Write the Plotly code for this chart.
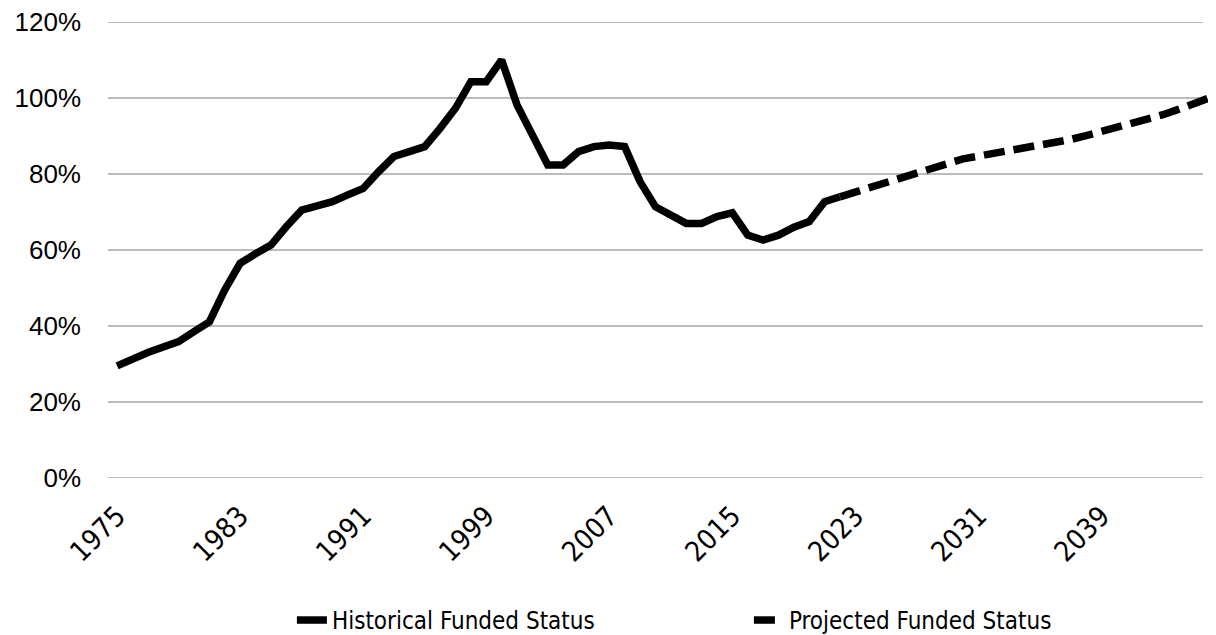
import plotly.graph_objects as go

# ---- data ----
hist_years = list(range(1975, 2023))
hist_values = [29.5, 31.4, 33.0, 34.5, 35.9, 38.5, 41.1, 49.5, 56.5, 59.0,
               61.3, 66.1, 70.5, 71.6, 72.7, 74.5, 76.2, 80.6, 84.6, 85.9,
               87.2, 92.0, 97.3, 104.3, 104.3, 110.0, 98.2, 90.3, 82.4, 82.4,
               85.9, 87.2, 87.6, 87.2, 78.0, 71.4, 69.2, 67.0, 67.0, 68.8,
               69.8, 63.9, 62.6, 63.9, 66.0, 67.5, 72.7, 74.0]

proj_years = list(range(2022, 2047))
proj_values = [74.0, 75.3, 76.6, 78.0, 79.3, 80.5, 81.9, 83.2, 84.0, 84.7,
               85.4, 86.1, 86.8, 87.6, 88.3, 89.1, 90.1, 91.1, 92.2, 93.3,
               94.4, 95.6, 97.0, 98.5, 100.0]

x_tick_vals = list(range(1975, 2046, 8))
y_tick_vals = [0, 20, 40, 60, 80, 100, 120]

series_names = ["Historical Funded Status", "Projected Funded Status"]

# ---- styles ----
narrow = "DejaVu Sans Condensed, Liberation Sans Narrow, sans-serif"
regular = "Liberation Sans, Arial, sans-serif"
x_range = [1974.41, 2046.25]
grid_end = 2045.6

fig = go.Figure()
fig.add_trace(go.Scatter(
    x=hist_years, y=hist_values, mode="lines", name=series_names[0],
    line=dict(color="black", width=7.5, shape="linear"),
))
fig.add_trace(go.Scatter(
    x=proj_years, y=proj_values, mode="lines", name=series_names[1],
    line=dict(color="black", width=7.5, dash="21px,9px"),
))

for v in y_tick_vals:
    fig.add_shape(type="line", xref="x", yref="y", x0=x_range[0], x1=grid_end,
                  y0=v, y1=v, line=dict(color="#A6A6A6", width=1.5), layer="below")

# the page body adds an 8px offset, margins compensate for it
fig.update_layout(
    width=1216, height=635,
    paper_bgcolor="white", plot_bgcolor="white",
    margin=dict(l=100, r=11, t=14, b=165, autoexpand=False),
    showlegend=True,
    legend=dict(orientation="h", x=0.58, xanchor="center", y=-0.263, yanchor="top",
                font=dict(family=narrow, size=24, color="black"),
                entrywidth=412, entrywidthmode="pixels",
                bgcolor="rgba(0,0,0,0)"),
)
fig.update_xaxes(
    range=x_range, tickmode="array", tickvals=x_tick_vals,
    ticktext=[str(v) for v in x_tick_vals], tickangle=-45,
    showgrid=False, zeroline=False, showline=False, ticks="",
    ticklabelstandoff=15, automargin=False, ticklabeloverflow="allow",
    tickfont=dict(family=narrow, size=28, color="black"),
)
fig.update_yaxes(
    range=[0, 120], tickmode="array", tickvals=y_tick_vals,
    ticktext=[f"{v}%" for v in y_tick_vals],
    showgrid=False, zeroline=False, showline=False, ticks="",
    ticklabelstandoff=26, automargin=False, ticklabeloverflow="allow",
    tickfont=dict(family=regular, size=26, color="black"),
)

fig.write_html("out.html")
